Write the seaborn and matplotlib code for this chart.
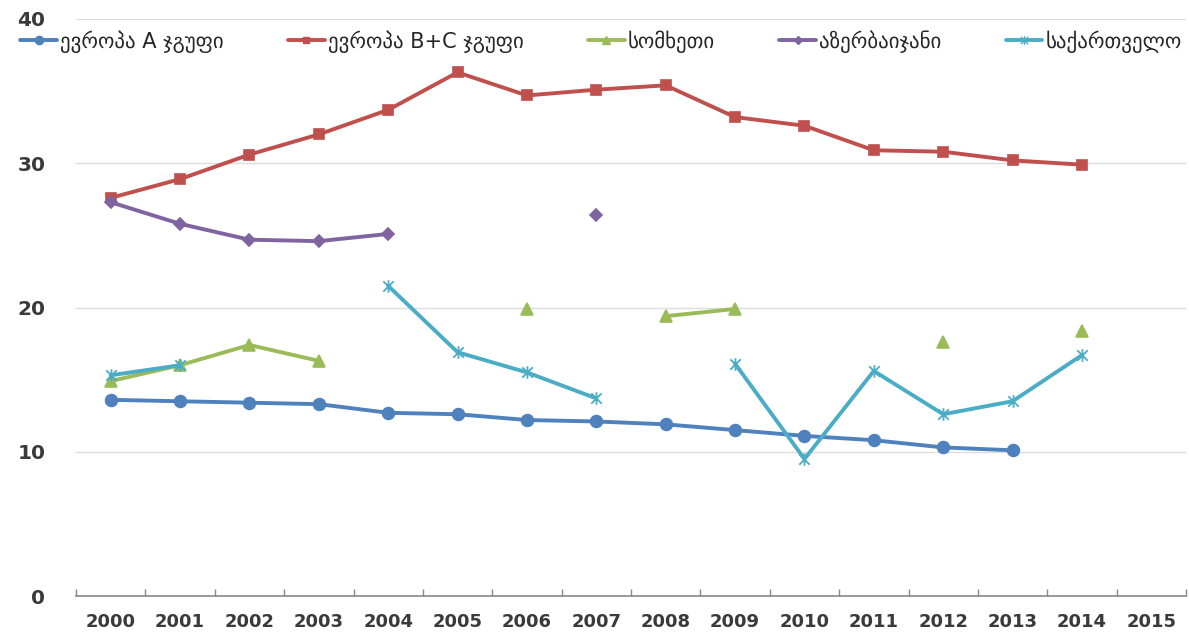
import numpy as np
import pandas as pd
import seaborn as sns
import matplotlib
matplotlib.use("Agg")
import matplotlib.pyplot as plt
from matplotlib.path import Path

years = list(range(2000, 2016))
nan = np.nan

europe_a = [13.6, 13.5, 13.4, 13.3, 12.7, 12.6, 12.2, 12.1, 11.9, 11.5, 11.1, 10.8, 10.3, 10.1, nan, nan]
europe_bc = [27.6, 28.9, 30.6, 32.0, 33.7, 36.3, 34.7, 35.1, 35.4, 33.2, 32.6, 30.9, 30.8, 30.2, 29.9, nan]
armenia = [14.9, 16.0, 17.4, 16.3, nan, nan, 19.9, nan, 19.4, 19.9, nan, nan, 17.6, nan, 18.4, nan]
azerbaijan = [27.3, 25.8, 24.7, 24.6, 25.1, nan, nan, 26.4, nan, nan, nan, nan, nan, nan, nan, nan]
georgia = [15.3, 16.0, nan, nan, 21.5, 16.9, 15.5, 13.7, nan, 16.1, 9.5, 15.6, 12.6, 13.5, 16.7, nan]

labels = ["ევროპა A ჯგუფი", "ევროპა B+C ჯგუფი", "სომხეთი", "აზერბაიჯანი", "საქართველო"]
series = [europe_a, europe_bc, armenia, azerbaijan, georgia]
colors = ["#4F81BD", "#C0504D", "#9BBB59", "#8064A2", "#4BACC6"]

# asterisk-like marker: an X with a vertical stroke
star = Path([(-1, -1), (1, 1), (-1, 1), (1, -1), (0, -1.2), (0, 1.2)],
            [Path.MOVETO, Path.LINETO, Path.MOVETO, Path.LINETO, Path.MOVETO, Path.LINETO])
marker_map = dict(zip(labels, ["o", "s", "^", "D", star]))
size_map = dict(zip(labels, [8.5, 7, 8.5, 6, 9]))

# long table; consecutive non-missing values share a segment id so gaps stay open
rows = []
for name, vals in zip(labels, series):
    seg = 0
    prev = False
    for i, v in enumerate(vals):
        if np.isnan(v):
            prev = False
            continue
        if not prev:
            seg += 1
        prev = True
        rows.append({"series": name, "x": i, "value": v, "seg": f"{name}-{seg}"})
df = pd.DataFrame(rows)

sns.set_theme(style="white")
plt.rcParams["font.family"] = ["DejaVu Sans"]

fig = plt.figure(figsize=(11.89, 6.35), dpi=100)
ax = fig.add_axes([76 / 1189, 39 / 635, 1110 / 1189, 577 / 635])

for name, color in zip(labels, colors):
    sub = df[df["series"] == name]
    sns.lineplot(data=sub, x="x", y="value", units="seg", estimator=None,
                 color=color, lw=2.8, marker=marker_map[name],
                 markersize=size_map[name], markeredgecolor=color,
                 markeredgewidth=1.2 if name != labels[4] else 1.3,
                 ax=ax, legend=False)

ax.set_xlim(-0.5, 15.5)
ax.set_ylim(0, 40)
ax.set_xlabel("")
ax.set_ylabel("")

ax.set_yticks([0, 10, 20, 30, 40])
ax.set_yticklabels(["0", "10", "20", "30", "40"], fontsize=14.5, fontweight="bold", color="#3A3A3A")
ax.tick_params(axis="y", length=0, pad=22)
for yv in [10, 20, 30, 40]:
    ax.axhline(yv, color="#DDDDDD", lw=1, zorder=0)

ax.set_xticks(range(16))
ax.set_xticklabels([str(y) for y in years], fontsize=13, fontweight="bold", color="#3A3A3A")
ax.set_xticks(np.arange(-0.5, 16, 1), minor=True)
ax.tick_params(axis="x", which="major", length=0, pad=12)
ax.tick_params(axis="x", which="minor", length=5, width=1, color="#888888", direction="in", bottom=True)

for s in ["left", "right", "top"]:
    ax.spines[s].set_visible(False)
ax.spines["bottom"].set_color("#888888")
ax.spines["bottom"].set_linewidth(1.2)

handles = [plt.Line2D([], [], color=c, lw=2.8, marker=marker_map[n], markersize=size_map[n] * 0.7,
                      markeredgecolor=c) for n, c in zip(labels, colors)]
fig.legend(handles, labels, loc="center", bbox_to_anchor=(0.5055, 0.935), ncol=5,
           frameon=False, fontsize=15, handlelength=1.75, handletextpad=0.15,
           columnspacing=3.1, borderaxespad=0, borderpad=0)

fig.savefig("out.png", dpi=100)
